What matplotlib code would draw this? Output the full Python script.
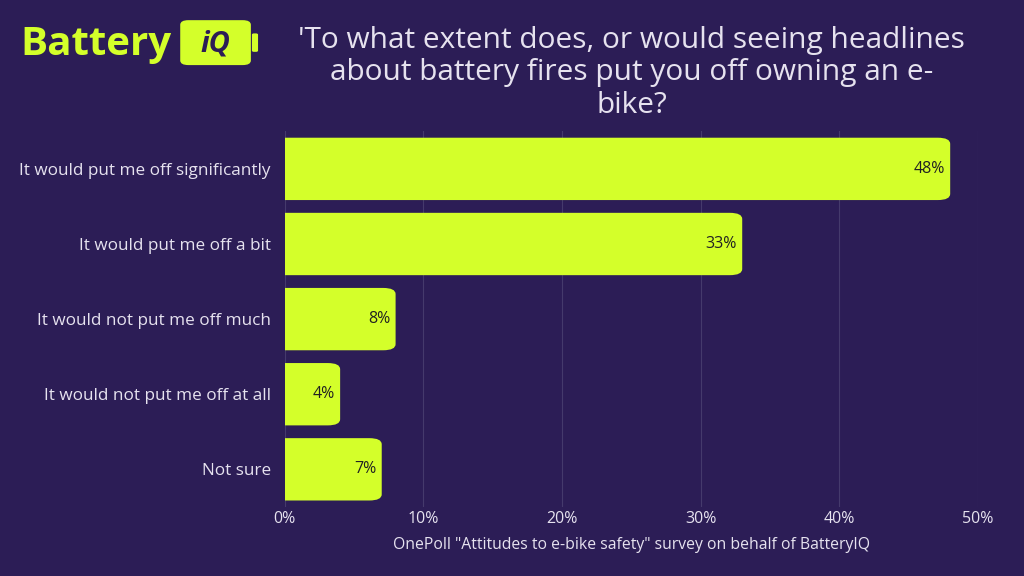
import matplotlib.pyplot as plt
from matplotlib.patches import FancyBboxPatch

# data
categories = ["It would put me off significantly", "It would put me off a bit",
              "It would not put me off much", "It would not put me off at all", "Not sure"]
values = [48, 33, 8, 4, 7]
ticks = [0, 10, 20, 30, 40, 50]

bg = "#2c1d56"
lime = "#d4ff2a"
txt = "#e6e2ef"

plt.rcParams['font.family'] = ['Open Sans', 'DejaVu Sans']

fig = plt.figure(figsize=(10.24, 5.76), dpi=100, facecolor=bg)
ax = fig.add_axes([0.278, 0.12, 0.677, 0.652], facecolor=bg)

ax.set_xlim(0, 50)
ax.set_ylim(4.5, -0.5)

# rounded bars (left corners hidden behind the axis edge)
h = 0.83
for i, v in enumerate(values):
    box = FancyBboxPatch((-2, i - h / 2), v + 2, h,
                         boxstyle="round,pad=0,rounding_size=0.9",
                         mutation_aspect=0.09, fc=lime, ec="none", zorder=3)
    ax.add_patch(box)
    ax.annotate(f"{v}%", (v, i), xytext=(-4, 0), textcoords="offset points",
                ha="right", va="center", fontsize=11.5, color="#222222", zorder=4)

ax.set_yticks(range(len(categories)))
ax.set_yticklabels(categories, fontsize=12.3, color=txt)
ax.set_xticks(ticks)
ax.set_xticklabels([f"{t}%" for t in ticks], fontsize=11.5, color=txt)
ax.tick_params(length=0, pad=10)
ax.tick_params(axis="x", pad=3)
ax.grid(axis="x", color="#453a6c", lw=0.8, zorder=0)
for s in ax.spines.values():
    s.set_visible(False)

fig.text(0.617, 0.874, "'To what extent does, or would seeing headlines\nabout battery fires put you off owning an e-\nbike?",
         ha="center", va="center", fontsize=21.5, color=txt, linespacing=1.16)
fig.text(0.617, 0.054, 'OnePoll "Attitudes to e-bike safety" survey on behalf of BatteryIQ',
         ha="center", va="center", fontsize=11.3, color=txt)

# logo
fig.text(0.02, 0.922, "Battery", ha="left", va="center", fontsize=29,
         fontweight="bold", color=lime)
logo = FancyBboxPatch((0.176, 0.887), 0.069, 0.078, boxstyle="round,pad=0,rounding_size=0.008",
                      transform=fig.transFigure, fc=lime, ec="none")
fig.add_artist(logo)
tab = FancyBboxPatch((0.246, 0.91), 0.006, 0.032, boxstyle="round,pad=0,rounding_size=0.002",
                     transform=fig.transFigure, fc=lime, ec="none")
fig.add_artist(tab)
fig.text(0.21, 0.924, "iQ", ha="center", va="center", fontsize=21,
         fontweight="bold", fontstyle="italic", color=bg)

fig.savefig("out.png", dpi=100, facecolor=bg)
